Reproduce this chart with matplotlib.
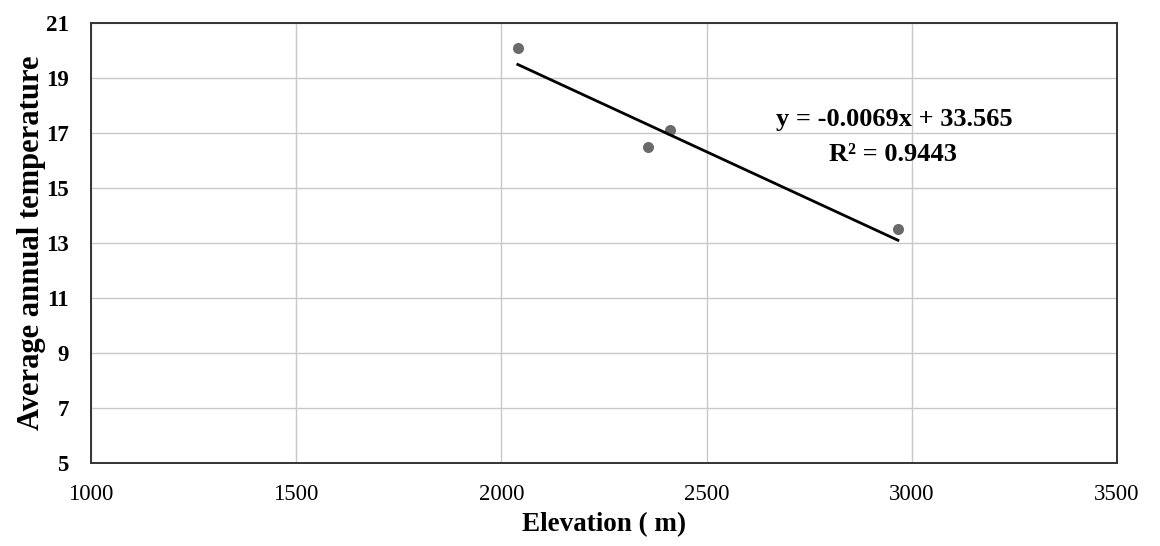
import numpy as np
import matplotlib
matplotlib.use("Agg")
from matplotlib import pyplot as plt

# station elevation (m) and mean annual temperature
elevation = [2040, 2357, 2411, 2966]
temperature = [20.1, 16.5, 17.1, 13.5]

# linear trend as reported
slope = -0.0069
intercept = 33.565
r2 = 0.9443

x_ticks = [1000, 1500, 2000, 2500, 3000, 3500]
y_ticks = [5, 7, 9, 11, 13, 15, 17, 19, 21]

plt.rcParams["font.family"] = ["Liberation Serif", "DejaVu Serif"]

fig = plt.figure(figsize=(11.6, 5.46), dpi=100)
ax = fig.add_axes([0.0784, 0.152, 0.8846, 0.806])

ax.scatter(elevation, temperature, s=48, color="#6a6a6a", zorder=3)

xfit = np.array([min(elevation), max(elevation)])
yfit = slope * xfit + intercept
ax.plot(xfit, yfit, color="black", lw=2.0, zorder=4)

ax.text(2957, 17.48, "y = {}x + {}".format(slope, intercept), fontsize=19,
        fontweight="bold", ha="center", va="center")
ax.text(2955, 16.22, "R² = {}".format(r2), fontsize=19,
        fontweight="bold", ha="center", va="center")

ax.set_xlim(1000, 3500)
ax.set_ylim(5, 21)
ax.set_xticks(x_ticks)
ax.set_yticks(y_ticks)
ax.grid(True, color="#c8c8c8", lw=1.0)
ax.set_axisbelow(True)
ax.tick_params(length=0, labelsize=16.5)
ax.tick_params(axis="x", pad=15)
ax.tick_params(axis="y", pad=16)
for lab in ax.get_yticklabels():
    lab.set_fontweight("bold")
for sp in ax.spines.values():
    sp.set_color("#333333")
    sp.set_linewidth(1.4)

ax.set_xlabel("Elevation ( m)", fontsize=19.5, fontweight="bold", labelpad=5)
ax.set_ylabel("Average annual temperature", fontsize=22, fontweight="bold", labelpad=0)

fig.savefig("out.png", dpi=100, facecolor="white")
